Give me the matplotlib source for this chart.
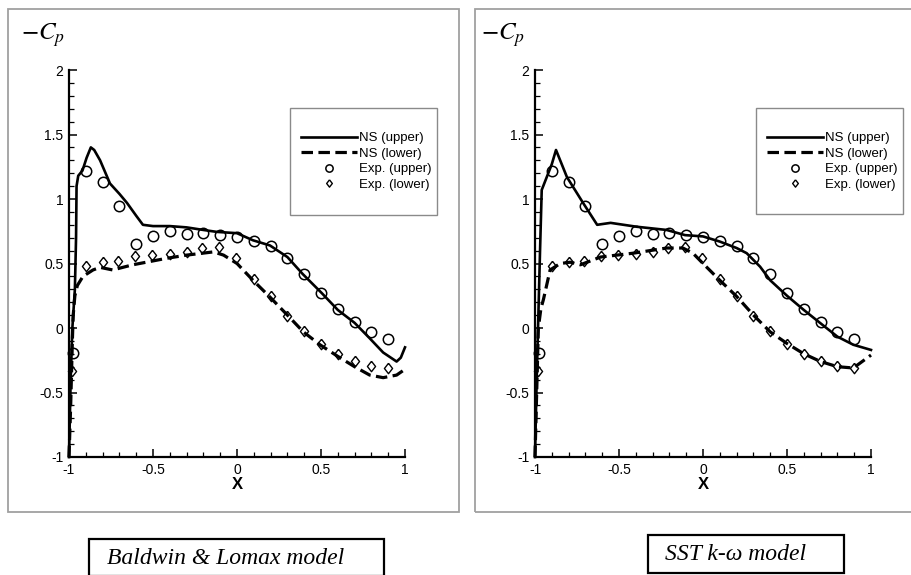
import matplotlib

matplotlib.use("Agg")
import matplotlib.pyplot as plt
from matplotlib import font_manager
from matplotlib.patches import Rectangle
from matplotlib.ticker import FuncFormatter, MultipleLocator

# experimental data (same for both panels)
exp_x = [-0.975, -0.90, -0.80, -0.70, -0.60, -0.50, -0.40, -0.30, -0.20, -0.10,
         0.0, 0.10, 0.20, 0.30, 0.40, 0.50, 0.60, 0.70, 0.80, 0.90]
exp_upper = [-0.19, 1.22, 1.13, 0.945, 0.655, 0.715, 0.75, 0.73, 0.735, 0.72,
             0.705, 0.675, 0.635, 0.545, 0.415, 0.275, 0.15, 0.045, -0.03, -0.085]
exp_lower_x = [-0.98, -0.90, -0.80, -0.71, -0.61, -0.505, -0.40, -0.30, -0.21, -0.11,
               -0.005, 0.10, 0.20, 0.30, 0.40, 0.50, 0.60, 0.70, 0.80, 0.90]
exp_lower = [-0.33, 0.48, 0.515, 0.52, 0.555, 0.565, 0.57, 0.59, 0.62, 0.625,
             0.54, 0.38, 0.25, 0.095, -0.025, -0.125, -0.205, -0.255, -0.295, -0.31]

# Baldwin & Lomax computation
bl_upper_x = [-1.0, -0.99, -0.98, -0.965, -0.958, -0.955, -0.945, -0.92, -0.895, -0.87,
              -0.85, -0.815, -0.756, -0.70, -0.655, -0.60, -0.56, -0.50, -0.40, -0.30,
              -0.20, -0.12, 0.0, 0.095, 0.196, 0.30, 0.39, 0.505, 0.60, 0.70,
              0.79, 0.87, 0.95, 0.975, 1.0]
bl_upper_y = [-1.0, -0.4, 0.0, 0.3, 0.7, 1.1, 1.18, 1.22, 1.32, 1.40,
              1.38, 1.30, 1.12, 1.04, 0.97, 0.87, 0.80, 0.79, 0.79, 0.78,
              0.76, 0.745, 0.735, 0.68, 0.64, 0.55, 0.42, 0.27, 0.14, 0.04,
              -0.08, -0.19, -0.26, -0.23, -0.15]
bl_lower_x = [-1.0, -0.99, -0.98, -0.975, -0.965, -0.95, -0.917, -0.857, -0.815, -0.74,
              -0.62, -0.42, -0.30, -0.14, -0.08, 0.0, 0.095, 0.196, 0.30, 0.395,
              0.494, 0.60, 0.70, 0.79, 0.87, 0.95, 1.0]
bl_lower_y = [-1.0, -0.6, -0.1, 0.1, 0.25, 0.33, 0.40, 0.45, 0.47, 0.45,
              0.49, 0.54, 0.565, 0.59, 0.565, 0.50, 0.37, 0.24, 0.10, -0.03,
              -0.13, -0.22, -0.30, -0.365, -0.385, -0.365, -0.32]

# SST k-omega computation
sst_upper_x = [-1.0, -0.99, -0.98, -0.97, -0.96, -0.93, -0.90, -0.875, -0.81, -0.714,
               -0.63, -0.55, -0.395, -0.216, -0.107, 0.0, 0.10, 0.20, 0.26, 0.34,
               0.40, 0.50, 0.60, 0.70, 0.80, 0.895, 1.0]
sst_upper_y = [-1.0, -0.4, 0.1, 0.6, 1.07, 1.17, 1.27, 1.38, 1.17, 0.97,
               0.80, 0.815, 0.785, 0.76, 0.72, 0.71, 0.67, 0.62, 0.58, 0.475,
               0.37, 0.25, 0.14, 0.036, -0.067, -0.13, -0.17]
sst_lower_x = [-1.0, -0.99, -0.98, -0.965, -0.95, -0.91, -0.85, -0.79, -0.73, -0.61,
               -0.415, -0.216, -0.12, -0.06, 0.0, 0.10, 0.20, 0.30, 0.40, 0.50,
               0.60, 0.70, 0.80, 0.895, 1.0]
sst_lower_y = [-1.0, -0.5, 0.0, 0.15, 0.22, 0.45, 0.50, 0.51, 0.49, 0.55,
               0.58, 0.62, 0.62, 0.58, 0.50, 0.37, 0.245, 0.10, -0.03, -0.12,
               -0.20, -0.26, -0.30, -0.31, -0.21]

labels = ["NS (upper)", "NS (lower)", "Exp. (upper)", "Exp. (lower)"]
captions = ["Baldwin & Lomax model", "SST k-\u03c9 model"]

W, H = 912, 575
DIAMOND = [(0, 1), (0.78, 0), (0, -1), (-0.78, 0), (0, 1)]

available = {f.name for f in font_manager.fontManager.ttflist}
SANS = "Liberation Sans Narrow" if "Liberation Sans Narrow" in available else "Liberation Sans"
plt.rcParams["font.family"] = [SANS, "DejaVu Sans"]
plt.rcParams["axes.unicode_minus"] = False
plt.rcParams["mathtext.fontset"] = "stix"


def fx(px):
    return px / W


def fy(py):
    return 1.0 - py / H


def draw_panel(fig, left_px, upper_x, upper_y, lower_x, lower_y, legend_px, frame_px, cp_px):
    ax = fig.add_axes([fx(left_px), fy(457), 336 / W, 387 / H])
    ax.plot(upper_x, upper_y, color="black", lw=1.9, clip_on=False, label=labels[0])
    ax.plot(lower_x, lower_y, color="black", lw=2.3, dashes=(3.6, 1.7), clip_on=False,
            label=labels[1])
    ax.plot(exp_x, exp_upper, ls="none", marker="o", ms=7.5, mfc="none", mec="black",
            mew=1.1, clip_on=False, label=labels[2])
    ax.plot(exp_lower_x, exp_lower, ls="none", marker=DIAMOND, ms=7.5, mfc="none",
            mec="black", mew=1.0, clip_on=False, label=labels[3])

    ax.set_xlim(-1, 1)
    ax.set_ylim(-1, 2)
    ax.xaxis.set_major_locator(MultipleLocator(0.5))
    ax.xaxis.set_minor_locator(MultipleLocator(0.1))
    ax.yaxis.set_major_locator(MultipleLocator(0.5))
    ax.yaxis.set_minor_locator(MultipleLocator(0.1))
    fmt = FuncFormatter(lambda v, pos: f"{v:g}")
    ax.xaxis.set_major_formatter(fmt)
    ax.yaxis.set_major_formatter(fmt)
    ax.tick_params(which="major", direction="in", length=6, width=1.1, labelsize=10, pad=4,
                   top=False, right=False)
    ax.tick_params(which="minor", direction="in", length=3.5, width=0.9, top=False, right=False)
    for side in ("top", "right"):
        ax.spines[side].set_visible(False)
    for side in ("left", "bottom"):
        ax.spines[side].set_linewidth(1.6)
    ax.patch.set_visible(False)
    ax.set_xlabel("X", fontsize=12, fontweight="bold", labelpad=0)

    fig.text(fx(cp_px[0]), fy(cp_px[1]), "$-C_p$", fontsize=18, ha="left", va="center")

    fig.patches.append(Rectangle((fx(legend_px[0]), fy(legend_px[3])),
                                 (legend_px[2] - legend_px[0]) / W,
                                 (legend_px[3] - legend_px[1]) / H,
                                 transform=fig.transFigure, fill=False,
                                 ec="#8a8a8a", lw=1.0))
    ax.legend(loc="upper left",
              bbox_to_anchor=(fx(legend_px[0] + 11), fy(legend_px[1] + 24)),
              bbox_transform=fig.transFigure, frameon=False, fontsize=9.5,
              borderpad=0, borderaxespad=0, handlelength=4.25, handletextpad=0.15,
              labelspacing=0.25, markerscale=0.7)

    fig.patches.append(Rectangle((fx(frame_px[0]), fy(frame_px[3])),
                                 (frame_px[2] - frame_px[0]) / W,
                                 (frame_px[3] - frame_px[1]) / H,
                                 transform=fig.transFigure, fill=False,
                                 ec="#a0a0a0", lw=1.3))
    return ax


def draw_caption(fig, box_px, text, text_x):
    fig.patches.append(Rectangle((fx(box_px[0]), fy(box_px[3])),
                                 (box_px[2] - box_px[0]) / W,
                                 (box_px[3] - box_px[1]) / H,
                                 transform=fig.transFigure, fill=False,
                                 ec="black", lw=1.6))
    fig.text(fx(text_x), fy((box_px[1] + box_px[3]) / 2 + 1), text,
             family="Liberation Serif", style="italic", fontsize=17,
             ha="left", va="center")


fig = plt.figure(figsize=(W / 100, H / 100), dpi=100)
fig.patch.set_facecolor("white")

draw_panel(fig, 69, bl_upper_x, bl_upper_y, bl_lower_x, bl_lower_y,
           legend_px=(290, 108, 437, 215), frame_px=(8, 9, 459, 512), cp_px=(21, 35))
draw_panel(fig, 535, sst_upper_x, sst_upper_y, sst_lower_x, sst_lower_y,
           legend_px=(756, 108, 903, 214), frame_px=(475, 9, 920, 512), cp_px=(481, 35))

draw_caption(fig, (89, 539, 384, 576), captions[0], 107)
draw_caption(fig, (648, 535, 844, 573), captions[1], 665)

fig.savefig("out.png", dpi=100)
